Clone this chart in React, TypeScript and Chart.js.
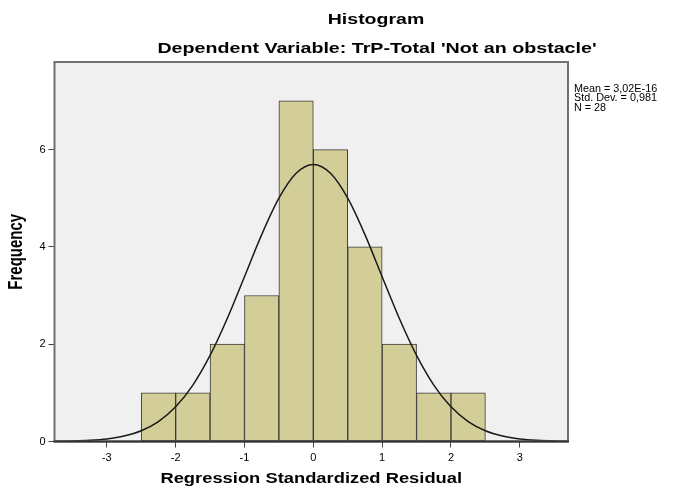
import React, { useEffect, useRef } from "react";
import { Chart, registerables } from "chart.js";

Chart.register(...registerables);

// ---- data ----
const binCenters = [-2.25, -1.75, -1.25, -0.75, -0.25, 0.25, 0.75, 1.25, 1.75, 2.25];
const frequencies = [1, 1, 2, 3, 7, 6, 4, 2, 1, 1];

const curveX = [
  -4, -3.75, -3.5, -3.25, -3, -2.75, -2.5, -2.25, -2, -1.75, -1.5, -1.25, -1, -0.75, -0.5, -0.25,
  0, 0.25, 0.5, 0.75, 1, 1.25, 1.5, 1.75, 2, 2.25, 2.5, 2.75, 3, 3.25, 3.5, 3.75, 4,
];
const curveY = [
  0.0014, 0.0038, 0.0098, 0.024, 0.053, 0.112, 0.221, 0.41, 0.712, 1.16, 1.769, 2.528, 3.386, 4.251, 5.0, 5.512,
  5.693, 5.512, 5.0, 4.251, 3.386, 2.528, 1.769, 1.16, 0.712, 0.41, 0.221, 0.112, 0.053, 0.024, 0.0098, 0.0038, 0.0014,
];

const xTicks = [-3, -2, -1, 0, 1, 2, 3];
const yTicks = [0, 2, 4, 6];
const statsLines = ["Mean = 3,02E-16", "Std. Dev. = 0,981", "N = 28"];
const titleText = "Histogram";
const subtitleText = "Dependent Variable: TrP-Total 'Not an obstacle'";
const xTitle = "Regression Standardized Residual";
const yTitle = "Frequency";

const FONT = "'Liberation Sans', Arial, sans-serif";

function drawStretched(
  ctx: CanvasRenderingContext2D,
  text: string,
  x: number,
  y: number,
  font: string,
  sx: number,
  align: CanvasTextAlign,
  rotate = 0
) {
  ctx.save();
  ctx.translate(x, y);
  ctx.scale(sx, 1);
  if (rotate) ctx.rotate(rotate);
  ctx.font = font;
  ctx.fillStyle = "#000";
  ctx.textAlign = align;
  ctx.textBaseline = "middle";
  ctx.fillText(text, 0, 0);
  ctx.restore();
}

const decorPlugin = {
  id: "spssDecor",
  beforeDraw(chart: any) {
    const { ctx, chartArea } = chart;
    ctx.save();
    ctx.fillStyle = "#f0f0f0";
    ctx.fillRect(chartArea.left, chartArea.top, chartArea.right - chartArea.left, chartArea.bottom - chartArea.top);
    ctx.restore();
  },
  afterDraw(chart: any) {
    const { ctx, chartArea } = chart;
    const { left, right, top, bottom } = chartArea;
    ctx.save();
    ctx.strokeStyle = "#707070";
    ctx.lineWidth = 2;
    ctx.strokeRect(left, top, right - left, bottom - top);
    ctx.strokeStyle = "#333";
    ctx.beginPath();
    ctx.moveTo(left - 1, bottom);
    ctx.lineTo(right + 1, bottom);
    ctx.stroke();
    ctx.restore();

    drawStretched(ctx, titleText, 376, 20, `bold 15px ${FONT}`, 1.3, "center");
    drawStretched(ctx, subtitleText, 377, 49, `bold 15px ${FONT}`, 1.31, "center");
    drawStretched(ctx, xTitle, (left + right) / 2, 479, `bold 14px ${FONT}`, 1.31, "center");
    drawStretched(ctx, yTitle, 17, (top + bottom) / 2, `bold 15px ${FONT}`, 1.3, "center", -Math.PI / 2);
    statsLines.forEach((s, i) => {
      drawStretched(ctx, s, 574, 89 + i * 9.5, `10px ${FONT}`, 1.08, "left");
    });
  },
};

export default function App() {
  const ref = useRef<HTMLCanvasElement | null>(null);

  useEffect(() => {
    document.body.style.margin = "0";
    const canvas = ref.current;
    if (!canvas) return;
    const chart = new Chart(canvas, {
      type: "bar",
      data: {
        datasets: [
          {
            type: "line",
            data: curveX.map((x, i) => ({ x, y: curveY[i] })),
            borderColor: "#1a1a1a",
            borderWidth: 1.5,
            pointRadius: 0,
            cubicInterpolationMode: "monotone",
            fill: false,
            order: 0,
          } as any,
          {
            type: "bar",
            data: binCenters.map((x, i) => ({ x, y: frequencies[i] })),
            backgroundColor: "#d3ce98",
            borderColor: "#3a3a3a",
            borderWidth: 1,
            borderSkipped: false,
            barPercentage: 1,
            categoryPercentage: 1,
            order: 1,
          } as any,
        ],
      },
      options: {
        responsive: false,
        animation: false,
        devicePixelRatio: 1,
        layout: { padding: { left: 0, top: 62, right: 114, bottom: 0 } },
        plugins: {
          legend: { display: false },
          tooltip: { enabled: false },
          title: { display: false },
        },
        scales: {
          x: {
            type: "linear",
            offset: false,
            min: -3.76,
            max: 3.7,
            afterBuildTicks: (s: any) => {
              s.ticks = xTicks.map((v) => ({ value: v }));
            },
            afterFit: (s: any) => {
              s.height = 46.5;
            },
            grid: {
              offset: false,
              drawOnChartArea: false,
              drawTicks: true,
              tickLength: 6,
              color: "#444",
              lineWidth: 1,
            },
            border: { display: false },
            ticks: {
              font: { family: FONT, size: 11 },
              color: "#000",
              padding: 4,
              maxRotation: 0,
              autoSkip: false,
            },
          },
          y: {
            type: "linear",
            min: 0,
            max: 7.8,
            afterBuildTicks: (s: any) => {
              s.ticks = yTicks.map((v) => ({ value: v }));
            },
            afterFit: (s: any) => {
              s.width = 54.5;
            },
            grid: { drawOnChartArea: false, drawTicks: true, tickLength: 6, color: "#444", lineWidth: 1 },
            border: { display: false },
            ticks: {
              font: { family: FONT, size: 11 },
              color: "#000",
              padding: 3,
              autoSkip: false,
            },
          },
        },
      } as any,
      plugins: [decorPlugin],
    });
    return () => chart.destroy();
  }, []);

  return (
    <div style={{ position: "fixed", left: 0, top: 0, width: 682, height: 488, background: "#fff" }}>
      <canvas ref={ref} width={682} height={488} />
    </div>
  );
}
